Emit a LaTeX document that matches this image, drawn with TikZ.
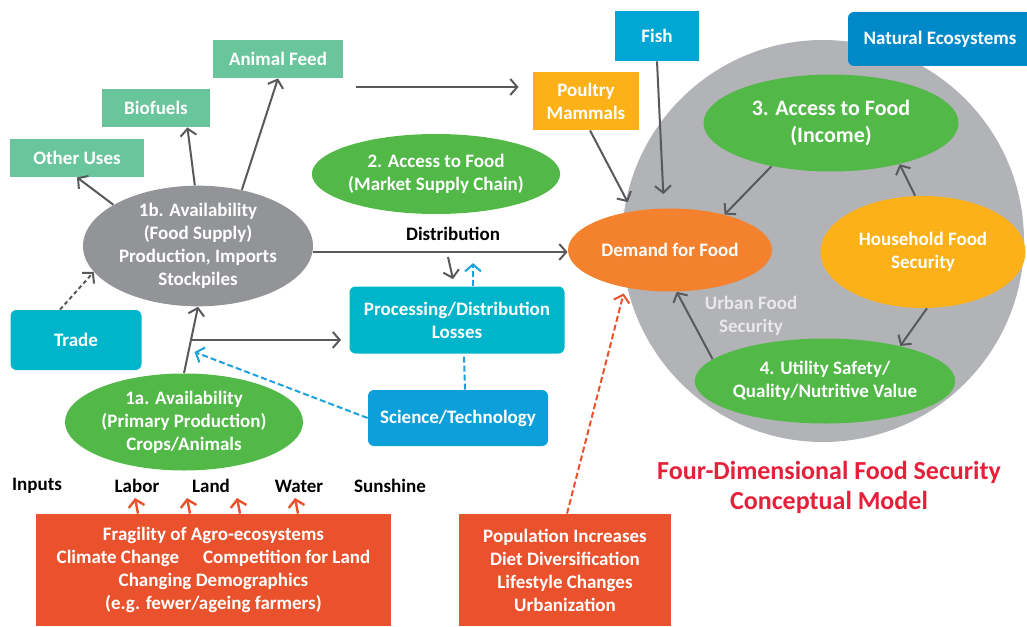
\documentclass[tikz,border=0pt]{standalone}
\usepackage{fontspec}
\setmainfont{Carlito}
\usetikzlibrary{shapes.geometric, arrows.meta, calc, positioning}

\definecolor{feedgreen}{HTML}{69C59B}
\definecolor{supplygray}{HTML}{929497}
\definecolor{dimgreen}{HTML}{52B848}
\definecolor{proccyan}{HTML}{00B4CA}
\definecolor{sciblue}{HTML}{0D9FD9}
\definecolor{fishblue}{HTML}{00A7D5}
\definecolor{natblue}{HTML}{0089C9}
\definecolor{amber}{HTML}{FBB117}
\definecolor{demandorange}{HTML}{F4812D}
\definecolor{firered}{HTML}{E9522C}
\definecolor{titlered}{HTML}{E5203A}
\definecolor{circlegray}{HTML}{B2B3B6}
\definecolor{arrowgray}{HTML}{58595B}
\definecolor{urbangray}{HTML}{E9E9EA}
\definecolor{dashblue}{HTML}{1BA1DB}

\begin{document}
\begin{tikzpicture}[x=0.5pt, y=-0.5pt,
  font=\fontsize{9.5}{11.5}\selectfont\bfseries,
  box/.style={fill=#1, text=white, align=center, inner sep=0pt},
  rbox/.style={box=#1, rounded corners=3pt},
  oval/.style={ellipse, fill=#1, text=white, align=center, inner sep=0pt},
  arr/.style={draw=arrowgray, line width=1pt, -{Straight Barb[length=3.5pt,width=8pt]}},
  dotarr/.style={arr, dash pattern=on 2pt off 1.5pt},
  sciline/.style={draw=dashblue, line width=1pt, dash pattern=on 3pt off 1.5pt},
  sciarr/.style={sciline, -{Straight Barb[length=3.5pt,width=8pt]}},
  redarr/.style={draw=firered, line width=1.2pt, -{Straight Barb[length=3.5pt,width=8pt]}},
  reddash/.style={redarr, line width=1pt, dash pattern=on 3pt off 1.5pt}]
\useasboundingbox (0,0) rectangle (1027,626);
\fill [circlegray] (823,241) circle [radius=201];

% uses of the food supply
\node [box=feedgreen, minimum width=65pt, minimum height=19pt] (feed) at (278,59) {Animal Feed};
\node [box=feedgreen, minimum width=54pt, minimum height=19pt] (biofuels) at (156,108) {Biofuels};
\node [box=feedgreen, minimum width=67pt, minimum height=19pt] (otheruses) at (77,158) {Other Uses};
\node [oval=supplygray, minimum width=115pt, minimum height=57pt] (supply) at (198,246)
  {1b. Availability\\(Food Supply)\\Production, Imports\\Stockpiles};
\node [oval=dimgreen, minimum width=113.5pt, minimum height=40pt] (market) at (436,174)
  {2. Access to Food\\(Market Supply Chain)};
\node [rbox=proccyan, minimum width=107.5pt, minimum height=33.5pt] (proc) at (457,320)
  {Processing/Distribution\\Losses};
\node [rbox=proccyan, minimum width=65.5pt, minimum height=30pt] (trade) at (76,340) {Trade};
\node [oval=dimgreen, minimum width=119pt, minimum height=48.5pt] (primary) at (184,422)
  {1a. Availability\\(Primary Production)\\Crops/Animals};
\node [rbox=sciblue, minimum width=90pt, minimum height=28pt] (scitech) at (458,418) {Science/Technology};

% demand side
\node [box=fishblue, minimum width=42pt, minimum height=25pt] (fish) at (657,36) {Fish};
\node [box=amber, minimum width=53pt, minimum height=29pt] (poultry) at (586,101) {Poultry\\Mammals};
\node [rbox=natblue, minimum width=92pt, minimum height=27pt] (natural) at (940,39) {Natural Ecosystems};
\node [oval=demandorange, minimum width=102pt, minimum height=41.5pt] (demand) at (670,250) {Demand for Food};
\node [oval=dimgreen, minimum width=127.5pt, minimum height=48.5pt,
  font=\fontsize{11}{13.5}\selectfont\bfseries] (income) at (831,123) {3. Access to Food\\(Income)};
\node [oval=amber, minimum width=102.5pt, minimum height=56pt] (household) at (923,252) {Household Food\\Security};
\node [oval=dimgreen, minimum width=127.5pt, minimum height=42.5pt] (utility) at (825,381)
  {4. Utility Safety/\\Quality/Nutritive Value};
\node [text=urbangray, align=center] (urban) at (751,316) {Urban Food\\Security};
\node (distrib) at (453,234) {Distribution};

% inputs and drivers
\node (inputs) at (37,486) {Inputs};
\node (labor) at (137,486) {Labor};
\node (land) at (211,486) {Land};
\node (water) at (299,486) {Water};
\node (sunshine) at (390,486) {Sunshine};
\node [box=firered, minimum width=177.5pt, minimum height=56pt] (fragility) at (213.5,570)
  {Fragility of Agro-ecosystems\\Climate Change\hspace{12pt}Competition for Land\\Changing Demographics\\(e.g. fewer/ageing farmers)};
\node [box=firered, minimum width=106pt, minimum height=56pt] (population) at (565,570)
  {Population Increases\\Diet Diversification\\Lifestyle Changes\\Urbanization};
\node [text=titlered, align=center, font=\fontsize{13}{15}\selectfont\bfseries] (title) at (829,487)
  {Four-Dimensional Food Security\\Conceptual Model};

% connectors
\draw [arr] (supply.154) -- (otheruses.south);
\draw [arr] (supply.93) -- ([xshift=-11.5pt]biofuels.south east);
\draw [arr] (supply.52) -- (feed.south);
\coordinate (fp) at (356,87);
\draw [arr, shorten >=7pt] (fp) -- (fp -| poultry.west);
\draw [dotarr] ([xshift=-8pt]trade.north) -- (supply.194);
\draw [arr] (primary.north) -- (supply.south);
\coordinate (stem) at ($(primary.north)!0.5!(supply.south)$);
\coordinate (stemlow) at ($(primary.north)!0.35!(supply.south)$);
\draw [arr, shorten >=4pt] (stem) -- (stem -| proc.west);
\draw [sciarr, shorten >=3pt] (scitech.west) -- (stemlow);
\draw [sciline] ([xshift=3.5pt]scitech.north) -- ([xshift=3.5pt]proc.south);
\coordinate (d1) at (448,257);
\draw [arr] (d1) -- ([xshift=-2pt,yshift=3.5pt]proc.north);
\draw [sciarr] ([xshift=8pt]proc.north) -- ++(0,-23);
\draw [arr] ([yshift=-3pt]supply.east) -- ([yshift=-3pt]supply.east -| demand.west);
\draw [arr, shorten >=7pt] (fish.south) -- ([xshift=-3pt]demand.north);
\draw [arr, shorten >=5pt] ([xshift=2pt]poultry.south) -- (demand.134);
\draw [arr] (income.216) -- (demand.33);
\draw [arr] (household.98) -- (income.-31);
\draw [arr] (household.-86) -- (utility.25);
\draw [arr] (utility.169) -- (demand.-81);
\draw [reddash, shorten >=3pt] ([xshift=1pt]population.north) -- (demand.220);
\foreach \x in {135,187,237,295} {
  \coordinate (tip) at (\x,498);
  \draw [redarr] ([xshift=1.5pt]tip |- fragility.north) -- (tip);
}
\end{tikzpicture}
\end{document}
